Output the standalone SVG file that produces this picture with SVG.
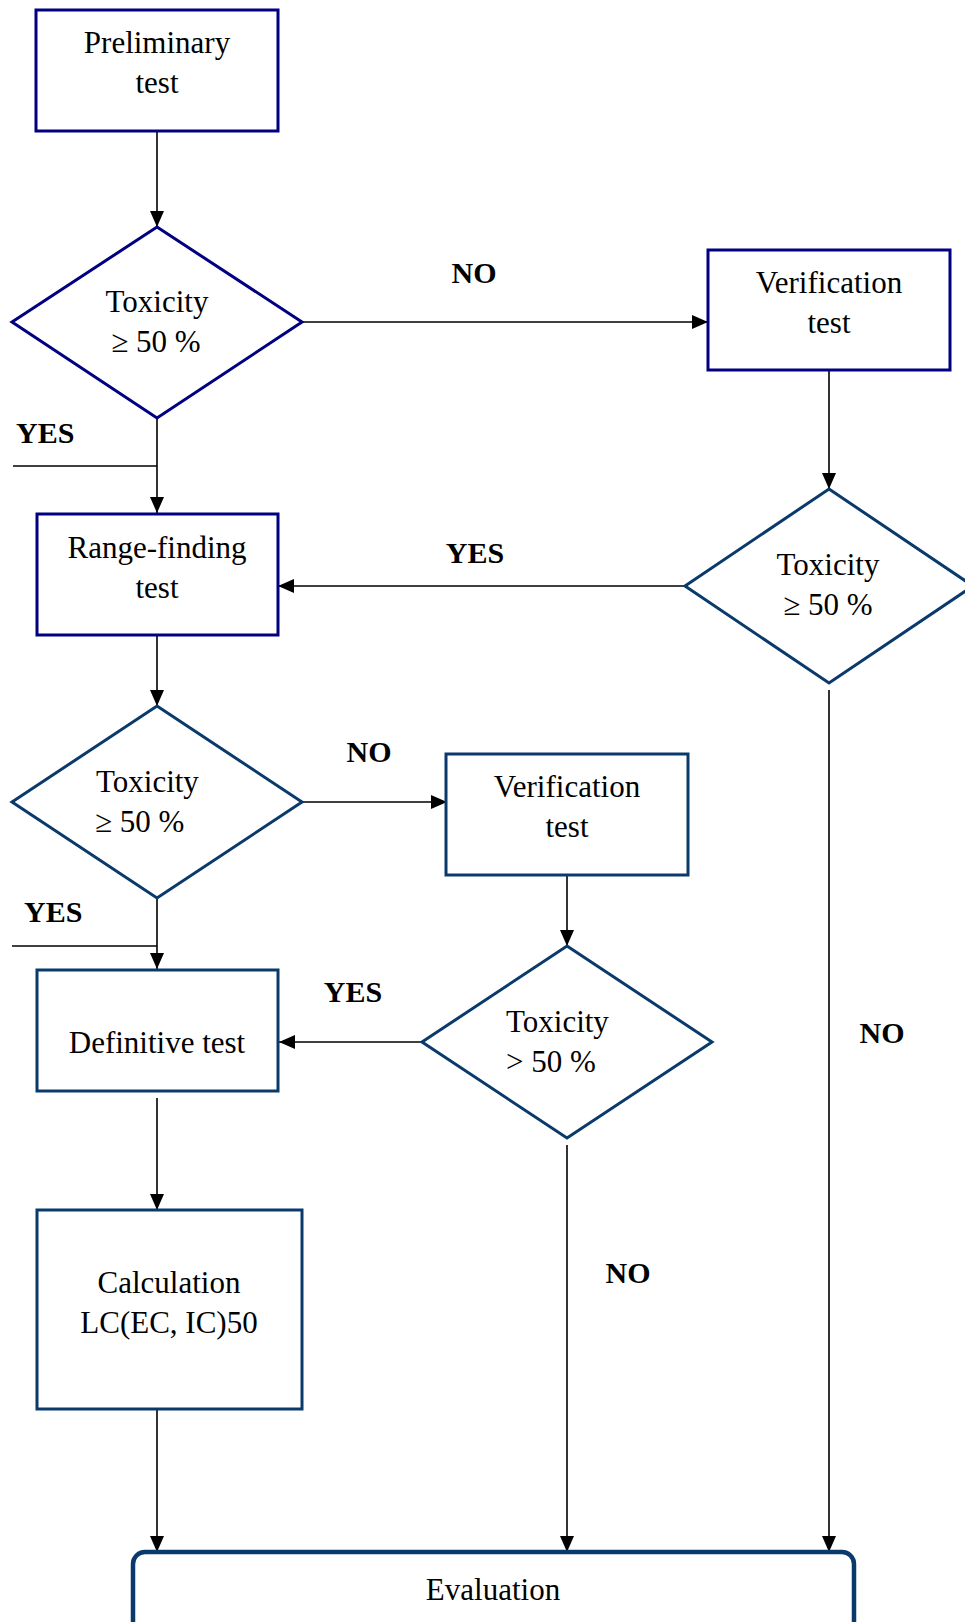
<svg xmlns="http://www.w3.org/2000/svg" width="965" height="1622" viewBox="0 0 965 1622">
<style>
.bg{fill:#ffffff}
.n1{fill:#ffffff;stroke:#000080;stroke-width:3}
.n2{fill:#ffffff;stroke:#0a3a6b;stroke-width:3}
.ev{fill:#ffffff;stroke:#0a3a6b;stroke-width:4.5}
.t{font-family:"Liberation Serif","Times New Roman",serif;font-size:31px;fill:#000000;text-anchor:middle}
.lb{font-family:"Liberation Serif","Times New Roman",serif;font-size:30px;font-weight:bold;fill:#000000;text-anchor:middle}
.t.ts,.lb.ts{text-anchor:start}
.c{fill:none;stroke:#000000;stroke-width:1.6}
.a{marker-end:url(#ah)}
</style>
<defs>
<marker id="ah" viewBox="0 0 16 14" refX="16" refY="7" markerWidth="16" markerHeight="14" markerUnits="userSpaceOnUse" orient="auto">
<path d="M0,0 L16,7 L0,14 z" fill="#000000"/>
</marker>
</defs>
<rect class="bg" x="0" y="0" width="965" height="1622"/>

<g id="connectors">
<line class="c a" x1="157" y1="131" x2="157" y2="227"/>
<line class="c a" x1="302" y1="322" x2="708" y2="322"/>
<line class="c a" x1="829" y1="370" x2="829" y2="489"/>
<line class="c a" x1="685" y1="586" x2="278" y2="586"/>
<line class="c a" x1="157" y1="418" x2="157" y2="513"/>
<line class="c" x1="13" y1="466" x2="157" y2="466"/>
<line class="c a" x1="157" y1="635" x2="157" y2="706"/>
<line class="c a" x1="302" y1="802" x2="447" y2="802"/>
<line class="c a" x1="567" y1="875" x2="567" y2="946"/>
<line class="c a" x1="422" y1="1042" x2="279" y2="1042"/>
<line class="c a" x1="157" y1="898" x2="157" y2="969"/>
<line class="c" x1="12" y1="946" x2="157" y2="946"/>
<line class="c a" x1="157" y1="1098" x2="157" y2="1210"/>
<line class="c a" x1="157" y1="1409" x2="157" y2="1552"/>
<line class="c a" x1="567" y1="1145" x2="567" y2="1552"/>
<line class="c a" x1="829" y1="690" x2="829" y2="1552"/>
<text class="lb" x="474" y="283">NO</text>
<text class="lb ts" x="16" y="443">YES</text>
<text class="lb" x="475" y="563">YES</text>
<text class="lb" x="369" y="762">NO</text>
<text class="lb ts" x="24" y="922">YES</text>
<text class="lb" x="353" y="1002">YES</text>
<text class="lb" x="882" y="1043">NO</text>
<text class="lb" x="628" y="1283">NO</text>
</g>

<g id="preliminary">
<rect class="n1" x="36" y="10" width="242" height="121"/>
<text class="t" x="157" y="53">Preliminary</text>
<text class="t" x="157" y="93">test</text>
</g>

<g id="toxicity1">
<polygon class="n1" points="157,227 302,322 157,418 12,322"/>
<text class="t" x="157" y="312">Toxicity</text>
<text class="t" x="156" y="352">≥ 50 %</text>
</g>

<g id="verification1">
<rect class="n1" x="708" y="250" width="242" height="120"/>
<text class="t" x="829" y="293">Verification</text>
<text class="t" x="829" y="333">test</text>
</g>

<g id="toxicity2">
<polygon class="n2" points="829,489 973,586 829,683 685,586"/>
<text class="t" x="828" y="575">Toxicity</text>
<text class="t" x="828" y="615">≥ 50 %</text>
</g>

<g id="rangefinding">
<rect class="n1" x="37" y="514" width="241" height="121"/>
<text class="t" x="157" y="558">Range-finding</text>
<text class="t" x="157" y="598">test</text>
</g>

<g id="toxicity3">
<polygon class="n2" points="157,706 302,802 157,898 12,802"/>
<text class="t ts" x="96" y="792">Toxicity</text>
<text class="t ts" x="95" y="832">≥ 50 %</text>
</g>

<g id="verification2">
<rect class="n2" x="446" y="754" width="242" height="121"/>
<text class="t" x="567" y="797">Verification</text>
<text class="t" x="567" y="837">test</text>
</g>

<g id="toxicity4">
<polygon class="n2" points="567,946 712,1042 567,1138 422,1042"/>
<text class="t ts" x="506" y="1032">Toxicity</text>
<text class="t ts" x="506" y="1072">&gt; 50 %</text>
</g>

<g id="definitive">
<rect class="n2" x="37" y="970" width="241" height="121"/>
<text class="t" x="157" y="1053">Definitive test</text>
</g>

<g id="calculation">
<rect class="n2" x="37" y="1210" width="265" height="199"/>
<text class="t" x="169" y="1293">Calculation</text>
<text class="t" x="169" y="1333">LC(EC, IC)50</text>
</g>

<g id="evaluation">
<rect class="ev" x="133" y="1552" width="721" height="110" rx="12" ry="12"/>
<text class="t" x="493" y="1600">Evaluation</text>
</g>
</svg>
